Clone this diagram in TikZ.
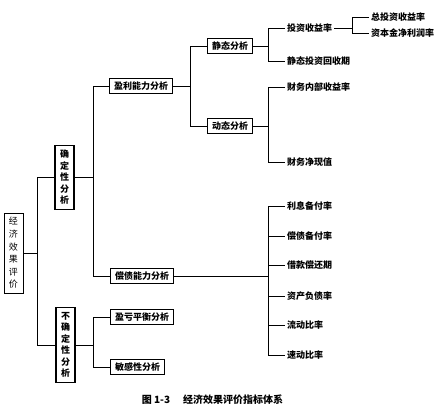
\documentclass[tikz,border=0pt]{standalone}
\usepackage{fontspec}
\setmainfont{Noto Sans CJK SC}
\newcommand{\fsnine}{\fontsize{9pt}{12.6pt}\selectfont}
\begin{document}
\begin{tikzpicture}[x=1pt,y=-1pt,
  box/.style={draw,line width=1.1pt,inner xsep=4.5pt,inner ysep=0pt,minimum height=15pt,font=\fsnine\bfseries},
  vbox/.style={draw,line width=1.1pt,inner xsep=0pt,inner ysep=2pt,minimum width=19pt,align=center,font=\fsnine\bfseries},
  leaf/.style={anchor=west,inner sep=2pt,font=\fsnine\bfseries},
  ln/.style={line width=0.8pt}]
\useasboundingbox (0,0) rectangle (439,413);
\coordinate (b0) at (37,0);
\coordinate (b1) at (93,0);
\coordinate (b2) at (190,0);
\coordinate (b3) at (268,0);
\coordinate (b4) at (352,0);

\node[vbox,minimum height=80pt,font=\fontsize{9pt}{12.6pt}\selectfont,line width=0.9pt] (root) at (13.5,253) {经\\济\\效\\果\\评\\价};
\node[vbox,minimum height=64pt,font=\fontsize{9pt}{11.5pt}\selectfont\bfseries] (qd) at (64.5,177.5) {确\\定\\性\\分\\析};
\node[vbox,minimum height=75pt,font=\fontsize{9pt}{11.5pt}\selectfont\bfseries] (bq) at (65.5,345) {不\\确\\定\\性\\分\\析};

\node[box,anchor=west] (yl) at (109,86) {盈利能力分析};
\node[box,anchor=west] (cz) at (110,276) {偿债能力分析};
\node[box,anchor=west] (yk) at (110,317) {盈亏平衡分析};
\node[box,anchor=west] (mg) at (110,367) {敏感性分析};
\node[box,anchor=west] (jt) at (207,46) {静态分析};
\node[box,anchor=west] (dt) at (207,126) {动态分析};

\node[leaf] (tz) at (285,28) {投资收益率};
\node[leaf] (hs) at (285,61) {静态投资回收期};
\node[leaf] (zt) at (369,17) {总投资收益率};
\node[leaf] (zb) at (369,33) {资本金净利润率};
\node[leaf] (nb) at (285,87) {财务内部收益率};
\node[leaf] (jx) at (285,162) {财务净现值};
\node[leaf] (d1) at (285,206) {利息备付率};
\node[leaf] (d2) at (285,236) {偿债备付率};
\node[leaf] (d3) at (285,265) {借款偿还期};
\node[leaf] (d4) at (285,296) {资产负债率};
\node[leaf] (d5) at (285,325) {流动比率};
\node[leaf] (d6) at (285,355) {速动比率};

\node[font=\fontsize{10pt}{12pt}\selectfont\bfseries] (cap) at (212.5,400) {图 1-3\hspace{1.3em}经济效果评价指标体系};

\draw[ln] (root.east) -- (root.east -| b0);
\draw[ln] (qd.west) -- (qd.west -| b0) -- (bq.west -| b0) -- (bq.west);
\draw[ln] (qd.east) -- (qd.east -| b1);
\draw[ln] (yl.west) -- (yl.west -| b1) -- (cz.west -| b1) -- (cz.west);
\draw[ln] (bq.east) -- (bq.east -| b1);
\draw[ln] (yk.west) -- (yk.west -| b1) -- (mg.west -| b1) -- (mg.west);
\draw[ln] (yl.east) -- (yl.east -| b2);
\draw[ln] (jt.west) -- (jt.west -| b2) -- (dt.west -| b2) -- (dt.west);
\draw[ln] (jt.east) -- (jt.east -| b3);
\draw[ln] (tz.west) -- (tz.west -| b3) -- (hs.west -| b3) -- (hs.west);
\draw[ln] (tz.east) -- (tz.east -| b4);
\draw[ln] (zt.west) -- (zt.west -| b4) -- (zb.west -| b4) -- (zb.west);
\draw[ln] (dt.east) -- (dt.east -| b3);
\draw[ln] (nb.west) -- (nb.west -| b3) -- (jx.west -| b3) -- (jx.west);
\draw[ln] (cz.east) -- (cz.east -| b3);
\draw[ln] (d1.west) -- (d1.west -| b3) -- (d6.west -| b3) -- (d6.west);
\foreach \n in {d2,d3,d4,d5} \draw[ln] (\n.west -| b3) -- (\n.west);
\end{tikzpicture}
\end{document}
